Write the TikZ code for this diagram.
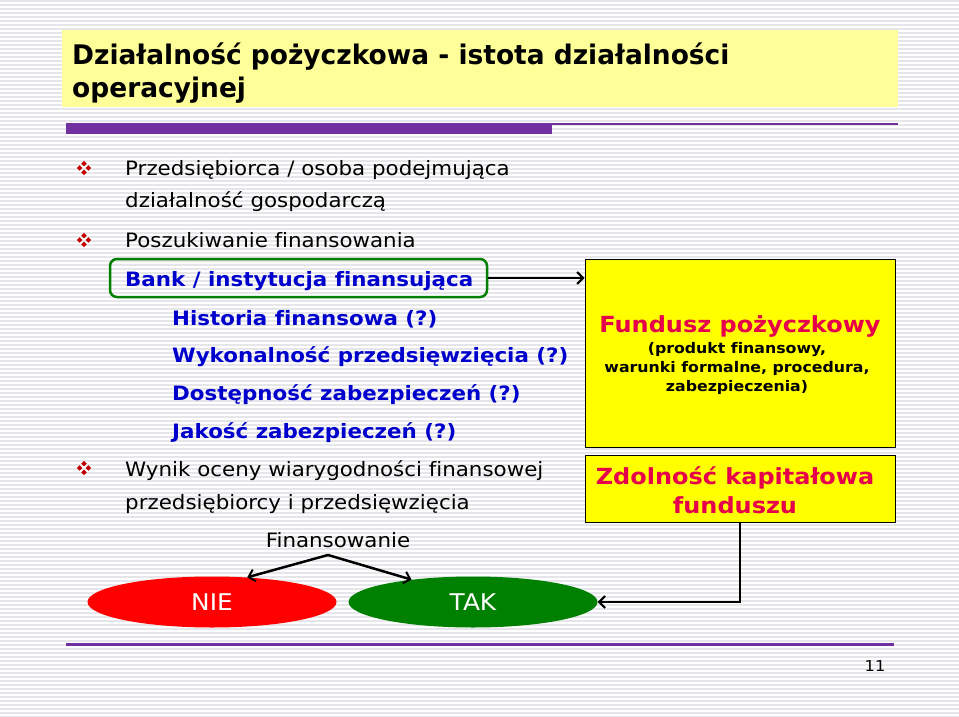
\documentclass[tikz,border=0pt]{standalone}
\usepackage{fontspec}
\setmainfont[FakeStretch=1.08, Ligatures=NoCommon]{DejaVu Sans}
\newfontfamily\titlefont[FakeStretch=0.98, Ligatures=NoCommon]{DejaVu Sans}
\usetikzlibrary{shapes.geometric,arrows.meta}
\definecolor{purp}{RGB}{112,48,160}
\definecolor{ttlbg}{RGB}{255,255,153}
\definecolor{bulred}{RGB}{192,0,0}
\definecolor{bluetxt}{RGB}{0,0,204}
\definecolor{crim}{RGB}{230,0,76}
\definecolor{grn}{RGB}{0,128,0}
\definecolor{stripe}{RGB}{230,230,234}
\definecolor{boxyellow}{RGB}{255,255,0}
\tikzset{
  body/.style={anchor=base west, inner sep=0pt, font=\fontsize{19.8}{22}\selectfont},
  bluetx/.style={anchor=base west, inner sep=0pt, font=\fontsize{19.8}{22}\selectfont\bfseries, text=bluetxt},
  ttl/.style={anchor=base west, inner sep=0pt, font=\titlefont\fontsize{27}{30}\selectfont\bfseries},
  ybox/.style={draw=black, line width=1pt, fill=boxyellow, inner sep=0pt},
  crimtx/.style={inner sep=0pt, text=crim, font=\fontsize{22.2}{29}\selectfont\bfseries, align=center},
  smalltx/.style={inner sep=0pt, font=\fontsize{14.6}{19}\selectfont\bfseries, align=center},
  oval/.style={ellipse, inner sep=0pt, minimum width=249pt, minimum height=51pt, text=white, font=\fontsize{23}{25}\selectfont},
  conn/.style={draw=black, line width=2.5pt, -{Straight Barb[length=6pt,width=12pt,line width=2pt]}},
  bul/.pic={\foreach \dx/\dy in {0/-4.4,4.4/0,0/4.4,-4.4/0}
     \fill[bulred] (\dx,\dy) +(0,-2.8) -- +(2.8,0) -- +(0,2.8) -- +(-2.8,0) -- cycle;}
}
\begin{document}
\begin{tikzpicture}[x=1pt,y=-1pt]
\useasboundingbox (0,0) rectangle (959,717);
\fill[white] (0,0) rectangle (959,717);
\foreach \yy in {1,5,...,717} \draw[stripe, line width=1.6pt] (0,\yy) -- (959,\yy);

% title
\fill[ttlbg] (62,30) rectangle (898,107);
\node[ttl] (t1) at (72,65) {Działalność pożyczkowa - istota działalności};
\node[ttl] (t2) at (72,98) {operacyjnej};
\fill[purp] (66,123) rectangle (552,134);
\fill[purp] (552,122.5) rectangle (898,125);

% bullets and text
\pic at (84,168) {bul};
\node[body] (l1) at (125,175) {Przedsiębiorca / osoba podejmująca};
\node[body] (l2) at (125,207) {działalność gospodarczą};
\pic at (84,240) {bul};
\node[body] (l3) at (125,247) {Poszukiwanie finansowania};

\node[draw=grn, line width=2.5pt, rounded corners=7pt, minimum width=377pt, minimum height=38pt, inner sep=0pt] (bank) at (298.5,278) {};
\node[bluetx] (banktx) at (125,286) {Bank / instytucja finansująca};

\node[bluetx] (b1) at (172,325) {Historia finansowa (?)};
\node[bluetx] (b2) at (172,362) {Wykonalność przedsięwzięcia (?)};
\node[bluetx] (b3) at (172,400) {Dostępność zabezpieczeń (?)};
\node[bluetx] (b4) at (172,438) {Jakość zabezpieczeń (?)};

\pic at (84,468) {bul};
\node[body] (l4) at (125,476) {Wynik oceny wiarygodności finansowej};
\node[body] (l5) at (125,509) {przedsiębiorcy i przedsięwzięcia};
\node[body, anchor=base] (fin) at (338,547) {Finansowanie};
\coordinate (apex) at (328,555);

% ovals
\node[oval, fill=red] (nie) at (212,602) {NIE};
\node[oval, fill=grn] (tak) at (473,602) {TAK};
\draw[conn] (apex) -- (nie.35);
\draw[conn] (apex) -- (tak.160);

% yellow boxes
\node[ybox, minimum width=310pt, minimum height=188pt] (fund) at (740,353) {};
\node[crimtx] (fundt) at (740,326) {Fundusz pożyczkowy};
\node[smalltx] (fundd) at (737,368) {(produkt finansowy,\\warunki formalne, procedura,\\zabezpieczenia)};
\node[ybox, minimum width=310pt, minimum height=67pt] (zd) at (740,488.5) {};
\node[crimtx] (zdt) at (735,490) {Zdolność kapitałowa\\funduszu};

\draw[conn] (bank.east) -- (bank.east -| fund.west);
\draw[conn] (zd.south) |- (tak.east);

% footer
\fill[purp] (66,643) rectangle (894,646);
\node[inner sep=0pt, font=\fontsize{15}{17}\selectfont] (pg) at (875,666) {11};
\end{tikzpicture}
\end{document}
